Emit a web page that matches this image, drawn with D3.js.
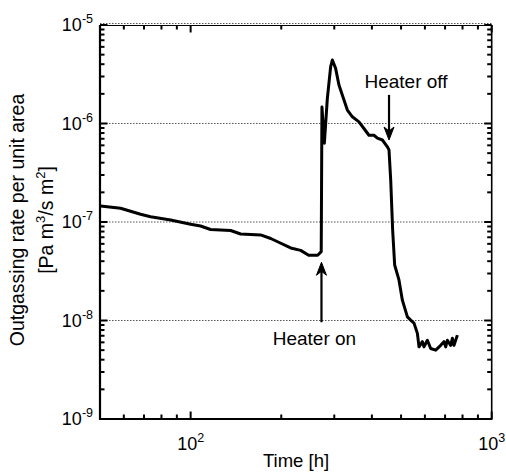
<!DOCTYPE html>
<html>
<head>
<meta charset="utf-8">
<script src="https://cdn.jsdelivr.net/npm/d3@7"></script>
<style>
  body { margin: 0; background: #fff; }
  text { font-family: "Liberation Sans", Arial, sans-serif; fill: #000; }
</style>
</head>
<body>
<div id="main"></div>
<script>
/* Size */
const width = 506, height = 473;
const margin = {top: 25, right: 14.3, bottom: 54, left: 100};

/* Data */
const timeH = [50.2, 58.5, 68.2, 73.6, 85.8, 100, 107.9, 116.5, 135.8, 146.6, 170.8, 184.5, 194.5,
  214.9, 232, 246.6, 264.2, 271.5, 273, 278.1, 284.5, 291.8, 295.6, 303.1, 310.9, 323.1, 331.6,
  344.5, 362.3, 376.4, 391.1, 406.4, 417.2, 433.5, 450.3, 455.9, 461.9, 468.8, 476.1, 492, 505,
  524.8, 538.2, 552, 566.5, 573.5, 588.6, 595.7, 611.4, 627, 651.6, 676.9, 694.1, 703.3, 712.5,
  730.8, 740.3, 749.5, 769.1];
const rate = [1.45e-7, 1.38e-7, 1.2e-7, 1.13e-7, 1.05e-7, 9.5e-8, 9.1e-8, 8.4e-8, 8.2e-8, 7.55e-8,
  7.4e-8, 6.8e-8, 6.3e-8, 5.45e-8, 5.15e-8, 4.6e-8, 4.6e-8, 5.0e-8, 1.47e-6, 6.3e-7, 1.8e-6,
  3.77e-6, 4.41e-6, 3.63e-6, 2.46e-6, 1.73e-6, 1.37e-6, 1.17e-6, 1.04e-6, 8.9e-7, 7.6e-7, 7.6e-7,
  7.1e-7, 6.8e-7, 5.8e-7, 5.4e-7, 2.67e-7, 8.3e-8, 3.66e-8, 2.58e-8, 1.61e-8, 1.09e-8, 1.01e-8,
  9.4e-9, 7.4e-9, 5.4e-9, 6.1e-9, 5.4e-9, 6.3e-9, 5.2e-9, 5.0e-9, 5.6e-9, 6.1e-9, 5.4e-9, 6.3e-9,
  5.6e-9, 6.6e-9, 5.6e-9, 7.1e-9];

const xTickExp = [2, 3];
const yTickExp = [-9, -8, -7, -6, -5];
const gridExp = [-8, -7, -6, -5];
const heaterOnT = 272, heaterOffT = 456;

/* Scales */
const x = d3.scaleLog().domain([50, 1000]).range([margin.left, width - margin.right]);
const y = d3.scaleLog().domain([1e-9, 1e-5]).range([height - margin.bottom, margin.top]);

const svg = d3.select("#main").append("svg").attr("width", width).attr("height", height);
const bottomY = height - margin.bottom, rightX = width - margin.right;

// minor tick values
const xMinor = [];
[10, 100].forEach(d => { for (let k = 2; k <= 9; k++) { const v = d * k; if (v > 50 && v < 1000) xMinor.push(v); } });
const yMinor = [];
yTickExp.slice(0, -1).forEach(e => { for (let k = 2; k <= 9; k++) yMinor.push(k * Math.pow(10, e)); });
const xMajor = xTickExp.map(e => Math.pow(10, e));
const yMajor = yTickExp.map(e => Math.pow(10, e));

/* Grid lines (dotted) */
svg.append("g").selectAll("line").data(gridExp).enter().append("line")
  .attr("x1", margin.left).attr("x2", rightX)
  .attr("y1", d => y(Math.pow(10, d)) - (d === -5 ? 1.5 : 0))
  .attr("y2", d => y(Math.pow(10, d)) - (d === -5 ? 1.5 : 0))
  .attr("stroke", "#555").attr("stroke-width", 1).attr("stroke-dasharray", "1.5,1.5");

/* Frame */
svg.append("line").attr("x1", margin.left).attr("x2", margin.left)
  .attr("y1", margin.top).attr("y2", bottomY + 1).attr("stroke", "#000").attr("stroke-width", 2.2);
svg.append("line").attr("x1", margin.left - 1).attr("x2", rightX)
  .attr("y1", bottomY).attr("y2", bottomY).attr("stroke", "#000").attr("stroke-width", 2.2);
svg.append("line").attr("x1", rightX).attr("x2", rightX)
  .attr("y1", margin.top).attr("y2", bottomY + 1).attr("stroke", "#000").attr("stroke-width", 1.6);
svg.append("line").attr("x1", margin.left).attr("x2", rightX)
  .attr("y1", margin.top + 0.5).attr("y2", margin.top + 0.5).attr("stroke", "#000").attr("stroke-width", 1.2);

/* Inward ticks on all four sides, placed by the scales */
const tickG = svg.append("g").attr("class", "ticks");
function xTicks(vals, len) {
  vals.forEach(v => {
    const px = x(v);
    tickG.append("line").attr("x1", px).attr("x2", px).attr("y1", bottomY).attr("y2", bottomY - len)
      .attr("stroke", "#000").attr("stroke-width", 2);
    tickG.append("line").attr("x1", px).attr("x2", px).attr("y1", margin.top).attr("y2", margin.top + len)
      .attr("stroke", "#000").attr("stroke-width", 2);
  });
}
function yTicks(vals, len) {
  vals.forEach(v => {
    const py = y(v);
    tickG.append("line").attr("x1", margin.left).attr("x2", margin.left + len).attr("y1", py).attr("y2", py)
      .attr("stroke", "#000").attr("stroke-width", 2);
    tickG.append("line").attr("x1", rightX).attr("x2", rightX - len).attr("y1", py).attr("y2", py)
      .attr("stroke", "#000").attr("stroke-width", 2);
  });
}
xTicks(xMajor, 7.5);
xTicks(xMinor, 4.5);
yTicks(yMajor, 7.5);
yTicks(yMinor, 4.5);

/* Tick labels with superscripts */
yTickExp.forEach(e => {
  const t = svg.append("text").attr("x", 93).attr("y", y(Math.pow(10, e)) + 6)
    .attr("text-anchor", "end").style("font-size", "18px");
  t.append("tspan").text("10");
  t.append("tspan").attr("dy", -8).style("font-size", "12.5px").text("-" + Math.abs(e));
});
xTickExp.forEach(e => {
  const t = svg.append("text").attr("x", x(Math.pow(10, e))).attr("y", 450)
    .attr("text-anchor", "middle").style("font-size", "18px");
  t.append("tspan").text("10");
  t.append("tspan").attr("dy", -8).style("font-size", "12.5px").text(e);
});

/* Axis titles */
svg.append("text").attr("x", 296).attr("y", 467).attr("text-anchor", "middle")
  .style("font-size", "18.5px").text("Time [h]");
const yl = svg.append("g").attr("transform", `translate(0,220) rotate(-90)`);
yl.append("text").attr("x", 0).attr("y", 24).attr("text-anchor", "middle")
  .style("font-size", "19.5px").text("Outgassing rate per unit area");
const yl2 = yl.append("text").attr("x", 0).attr("y", 53).attr("text-anchor", "middle")
  .style("font-size", "19.5px");
yl2.append("tspan").text("[Pa m");
yl2.append("tspan").attr("dy", -8).style("font-size", "13px").text("3");
yl2.append("tspan").attr("dy", 8).text("/s m");
yl2.append("tspan").attr("dy", -8).style("font-size", "13px").text("2");
yl2.append("tspan").attr("dy", 8).text("]");

/* Curve */
const pts = timeH.map((t, i) => [t, rate[i]]);
const curve = d3.line().x(d => x(d[0])).y(d => y(d[1]));
svg.append("path").datum(pts).attr("d", curve)
  .attr("fill", "none").attr("stroke", "#000").attr("stroke-width", 3)
  .attr("stroke-linejoin", "round");

/* Annotations */
function arrow(t, yFrom, yTo) {
  const ax = x(t), y0 = y(yFrom), y1 = y(yTo);
  const dir = Math.sign(y1 - y0);
  svg.append("line").attr("x1", ax).attr("x2", ax).attr("y1", y0).attr("y2", y1 - dir * 6)
    .attr("stroke", "#000").attr("stroke-width", 2.2);
  svg.append("path")
    .attr("d", `M${ax},${y1} L${ax - 5},${y1 - dir * 13} L${ax},${y1 - dir * 9} L${ax + 5},${y1 - dir * 13} Z`)
    .attr("fill", "#000").attr("stroke", "#000").attr("stroke-width", 1);
}
arrow(heaterOffT, 1.95e-6, 6.8e-7);
arrow(heaterOnT, 9.6e-9, 3.9e-8);
svg.append("text").attr("x", x(heaterOffT) + 17).attr("y", 88).attr("text-anchor", "middle")
  .style("font-size", "19px").text("Heater off");
svg.append("text").attr("x", x(heaterOnT) - 7).attr("y", 345).attr("text-anchor", "middle")
  .style("font-size", "19px").text("Heater on");
</script>
</body>
</html>
